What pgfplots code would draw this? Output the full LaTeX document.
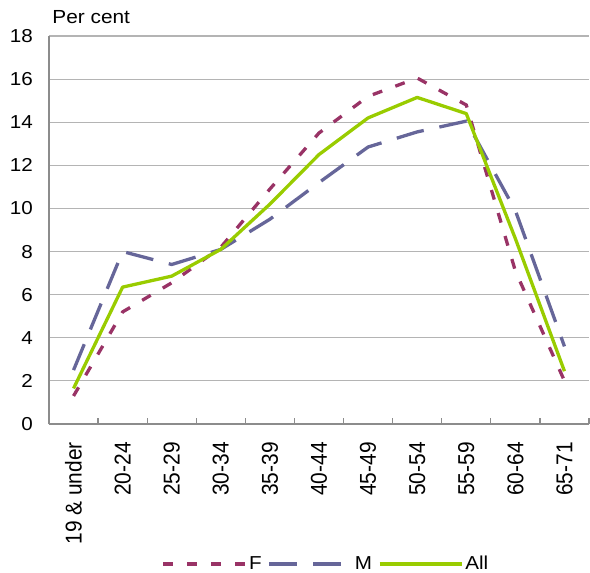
\documentclass[border=0pt]{standalone}
\usepackage{fontspec}
\setmainfont[FakeStretch=1.1]{Liberation Sans}
\newfontfamily\xlab[FakeStretch=0.913]{Liberation Sans}
\usepackage{pgfplots}
\pgfplotsset{compat=1.18}
\definecolor{cF}{HTML}{993366}
\definecolor{cM}{HTML}{666699}
\definecolor{cA}{HTML}{99CC00}
\definecolor{gridgray}{HTML}{B4B4B4}
\definecolor{axisgray}{HTML}{8C8C8C}
\begin{document}
\fontsize{18.8}{22}\selectfont
\begin{tikzpicture}
\useasboundingbox (0,0) rectangle (590bp,573bp);
\begin{axis}[
  at={(49bp,149bp)}, anchor=south west,
  scale only axis, width=540bp, height=388bp,
  xmin=-0.5, xmax=10.5, ymin=0, ymax=18,
  xtick={0,...,10},
  xticklabels={19 \& under,20-24,25-29,30-34,35-39,40-44,45-49,50-54,55-59,60-64,65-71},
  minor xtick={-0.5,0.5,...,10.5},
  ytick={0,2,...,18},
  axis x line*=bottom, axis y line*=left,
  axis line style={draw=axisgray, line width=1.2bp, -},
  ymajorgrids, major grid style={draw=gridgray, line width=1.2bp},
  tick align=inside, major tick length=0pt, minor tick length=6bp,
  minor tick style={draw=axisgray, line width=1.2bp},
  xtick pos=bottom, ytick pos=left,
  /pgf/number format/assume math mode=true,
  x tick label style={rotate=90, anchor=east, inner sep=0pt, xshift=-18bp,
     font=\xlab\fontsize{23}{26}\selectfont},
  y tick label style={anchor=east, inner sep=0pt, xshift=-16bp,
     font=\fontsize{18.8}{22}\selectfont},
  legend style={at={(0.513,-0.361)}, anchor=center, draw=none, fill=none,
     legend columns=3, font=\fontsize{18.8}{22}\selectfont,
     /tikz/every even column/.append style={column sep=4bp},
     nodes={inner sep=2bp}},
  legend image code/.code={\draw[#1] (0bp,0bp) -- (82bp,0bp);},
  clip=false,
]
\addplot[cF, line width=3.3bp, dash pattern=on 10bp off 14bp] coordinates {
 (0,1.3) (1,5.2) (2,6.55) (3,8.2) (4,10.9) (5,13.5) (6,15.2) (7,16.05) (8,14.8) (9,7.1) (10,2.0)};
\addlegendentry{F}
\addplot[cM, line width=3.3bp, dash pattern=on 28bp off 16bp] coordinates {
 (0,2.5) (1,8.0) (2,7.4) (3,8.1) (4,9.5) (5,11.2) (6,12.85) (7,13.55) (8,14.05) (9,9.9) (10,3.6)};
\addlegendentry{M}
\addplot[cA, line width=3.3bp, line join=round] coordinates {
 (0,1.65) (1,6.35) (2,6.86) (3,8.1) (4,10.2) (5,12.5) (6,14.2) (7,15.15) (8,14.4) (9,8.6) (10,2.45)};
\addlegendentry{All}
\node[anchor=base west, inner sep=0pt, font=\fontsize{19}{22}\selectfont] at (rel axis cs:0.006,1.031) {Per cent};
\end{axis}
\end{tikzpicture}
\end{document}
